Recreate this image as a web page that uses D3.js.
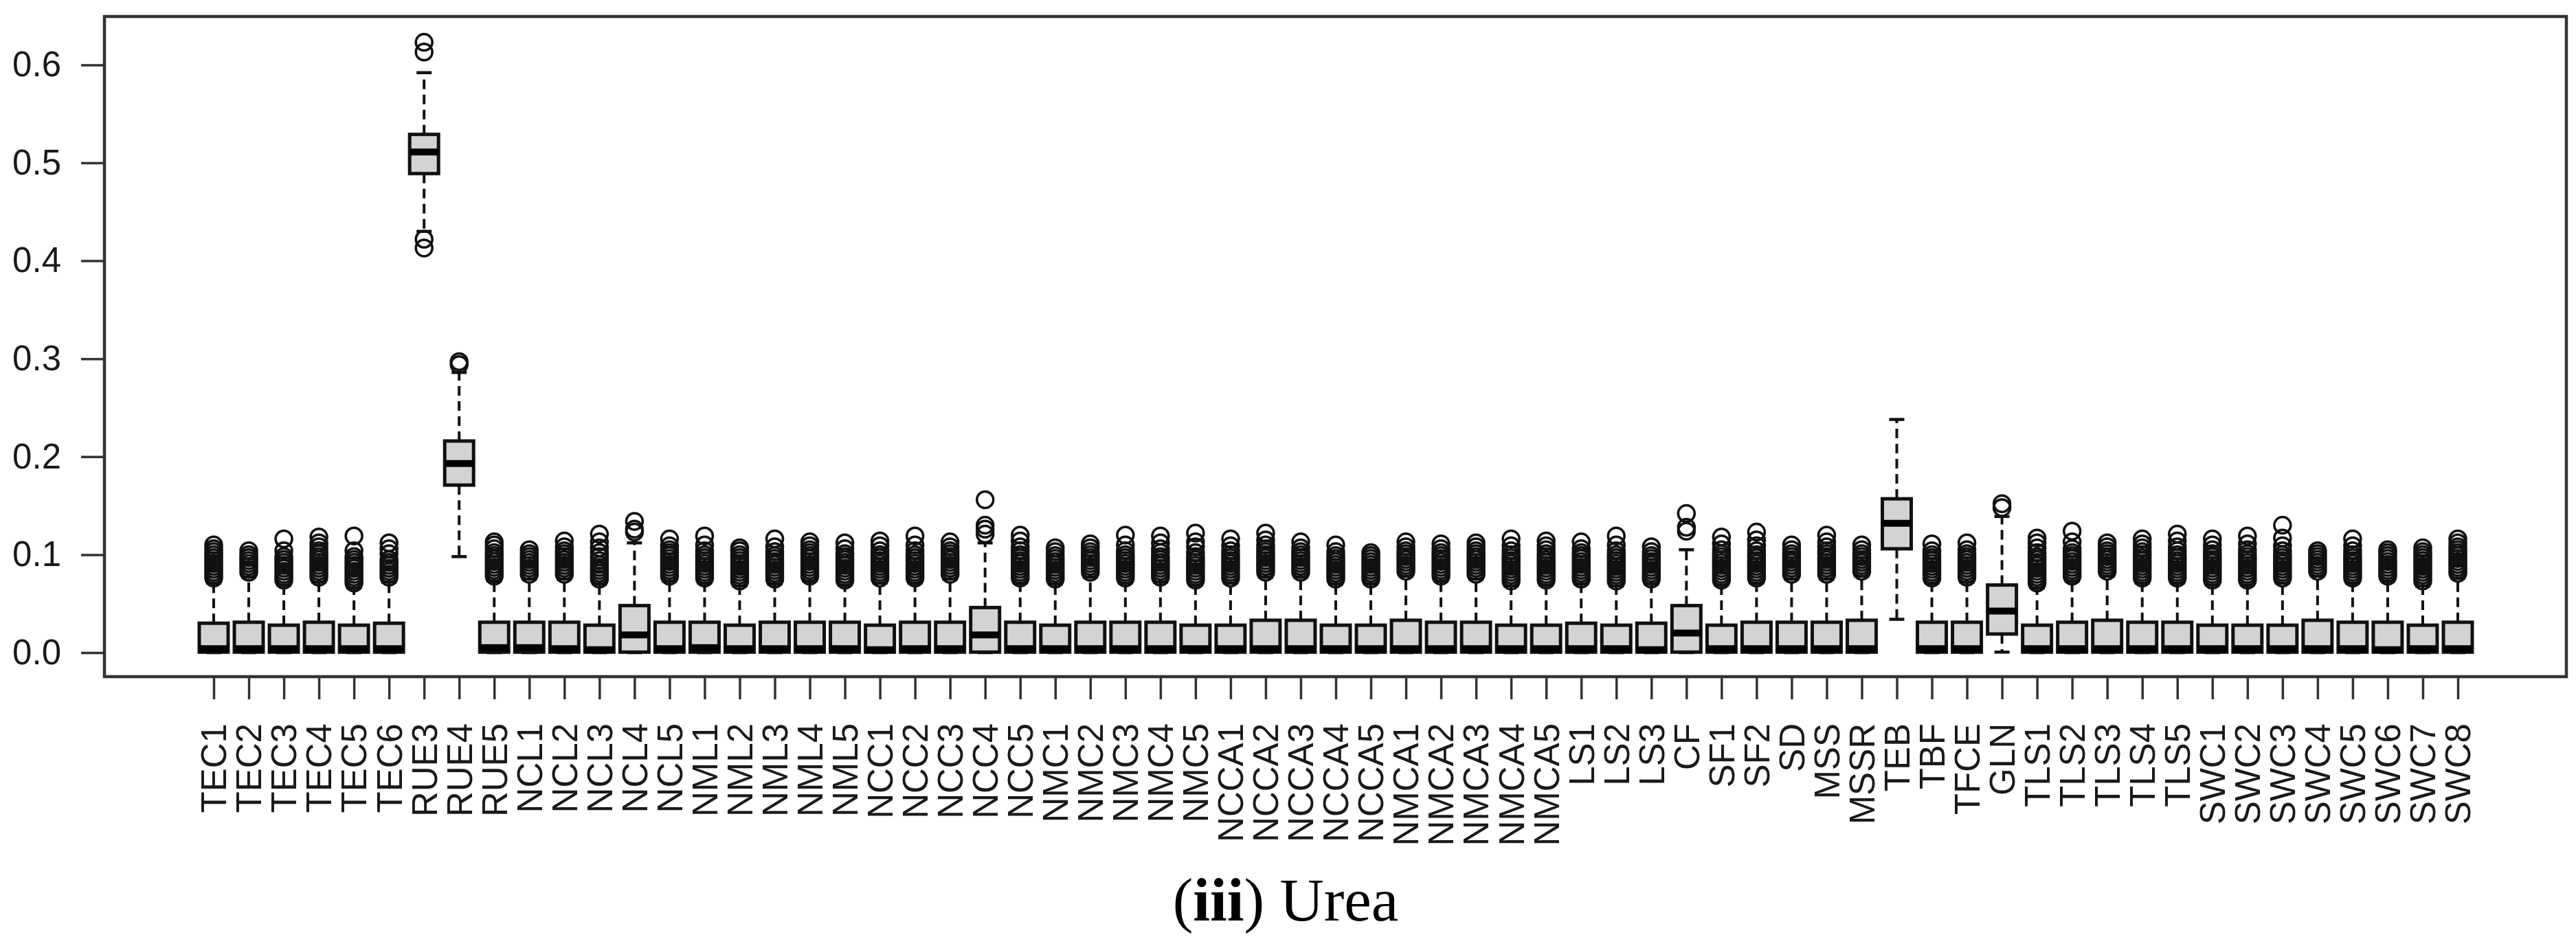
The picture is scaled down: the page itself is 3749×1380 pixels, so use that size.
<!DOCTYPE html>
<html>
<head>
<meta charset="utf-8">
<script src="https://cdn.jsdelivr.net/npm/d3@7"></script>
<style>
  html, body { margin: 0; padding: 0; background: #fff; }
  svg { display: block; }
</style>
</head>
<body>
<svg id="chart" width="3749" height="1380"></svg>
<script>
// ---------------- data ----------------
const categories = ["TEC1","TEC2","TEC3","TEC4","TEC5","TEC6","RUE3","RUE4","RUE5",
  "NCL1","NCL2","NCL3","NCL4","NCL5","NML1","NML2","NML3","NML4","NML5",
  "NCC1","NCC2","NCC3","NCC4","NCC5","NMC1","NMC2","NMC3","NMC4","NMC5",
  "NCCA1","NCCA2","NCCA3","NCCA4","NCCA5","NMCA1","NMCA2","NMCA3","NMCA4","NMCA5",
  "LS1","LS2","LS3","CF","SF1","SF2","SD","MSS","MSSR","TEB","TBF","TFCE","GLN",
  "TLS1","TLS2","TLS3","TLS4","TLS5","SWC1","SWC2","SWC3","SWC4","SWC5","SWC6","SWC7","SWC8"];

const whiskerLow = [0,0,0,0,0,0,0.430,0.098,0,
  0,0,0,0,0,0,0,0,0,0,
  0,0,0,0,0,0,0,0,0,0,
  0,0,0,0,0,0,0,0,0,0,
  0,0,0,0,0,0,0,0,0,0.034,0,0,0.0005,
  0,0,0,0,0,0,0,0,0,0,0,0,0];

const q1 = [0.0005,0.0005,0.0005,0.0005,0.0005,0.0005,0.489,0.171,0.0005,
  0.0005,0.0005,0.0005,0.0005,0.0005,0.0005,0.0005,0.0005,0.0005,0.0005,
  0.0005,0.0005,0.0005,0.0005,0.0005,0.0005,0.0005,0.0005,0.0005,0.0005,
  0.0005,0.0005,0.0005,0.0005,0.0005,0.0005,0.0005,0.0005,0.0005,0.0005,
  0.0005,0.0005,0.0005,0.0005,0.0005,0.0005,0.0005,0.0005,0.0005,0.106,0.0005,0.0005,0.019,
  0.0005,0.0005,0.0005,0.0005,0.0005,0.0005,0.0005,0.0005,0.0005,0.0005,0.0005,0.0005,0.0005];

const median = [0.004,0.004,0.004,0.004,0.004,0.004,0.511,0.193,0.005,
  0.005,0.004,0.003,0.018,0.004,0.005,0.004,0.004,0.004,0.004,
  0.003,0.004,0.004,0.018,0.004,0.004,0.004,0.004,0.004,0.004,
  0.004,0.004,0.004,0.004,0.004,0.004,0.004,0.004,0.004,0.004,
  0.004,0.004,0.003,0.020,0.004,0.004,0.004,0.004,0.004,0.132,0.004,0.004,0.0425,
  0.004,0.004,0.004,0.004,0.004,0.004,0.004,0.004,0.004,0.004,0.003,0.004,0.004];

const q3 = [0.030,0.031,0.028,0.031,0.028,0.030,0.529,0.216,0.031,
  0.031,0.031,0.028,0.048,0.031,0.031,0.028,0.031,0.031,0.031,
  0.028,0.031,0.031,0.046,0.031,0.028,0.031,0.031,0.031,0.028,
  0.028,0.033,0.033,0.028,0.028,0.033,0.031,0.031,0.028,0.028,
  0.030,0.028,0.030,0.048,0.028,0.031,0.031,0.031,0.033,0.157,0.031,0.031,0.069,
  0.028,0.031,0.033,0.031,0.031,0.028,0.028,0.028,0.033,0.031,0.031,0.028,0.031];

const whiskerHigh = [0.071,0.077,0.069,0.072,0.066,0.072,0.592,0.286,0.073,
  0.075,0.075,0.070,0.112,0.073,0.071,0.068,0.070,0.073,0.069,
  0.071,0.071,0.075,0.112,0.071,0.070,0.077,0.071,0.072,0.069,
  0.071,0.077,0.077,0.070,0.070,0.078,0.073,0.075,0.068,0.069,
  0.070,0.068,0.070,0.105,0.069,0.071,0.075,0.075,0.078,0.238,0.071,0.072,0.139,
  0.066,0.073,0.078,0.071,0.071,0.069,0.069,0.071,0.078,0.071,0.073,0.068,0.076];

const outliers = [
  [0.076,0.079,0.082,0.085,0.088,0.091,0.094,0.097,0.100,0.103,0.106,0.110],
  [0.082,0.085,0.088,0.091,0.094,0.097,0.100,0.104],
  [0.074,0.077,0.080,0.083,0.086,0.089,0.092,0.095,0.098,0.104,0.116],
  [0.077,0.080,0.083,0.086,0.089,0.092,0.095,0.098,0.101,0.104,0.108,0.112,0.118],
  [0.071,0.074,0.077,0.080,0.083,0.086,0.089,0.092,0.095,0.098,0.104,0.119],
  [0.077,0.080,0.083,0.086,0.089,0.092,0.095,0.101,0.106,0.112],
  [0.413,0.422,0.613,0.623],
  [0.294,0.297],
  [0.078,0.081,0.084,0.087,0.090,0.093,0.096,0.099,0.102,0.106,0.110,0.113],
  [0.080,0.083,0.086,0.089,0.092,0.095,0.098,0.101,0.105],
  [0.080,0.083,0.086,0.089,0.092,0.095,0.098,0.101,0.104,0.108,0.114],
  [0.075,0.078,0.081,0.084,0.087,0.090,0.094,0.098,0.102,0.107,0.113,0.121],
  [0.123,0.126,0.134],
  [0.078,0.081,0.084,0.087,0.090,0.093,0.096,0.099,0.102,0.105,0.109,0.116],
  [0.076,0.079,0.082,0.085,0.088,0.091,0.094,0.097,0.100,0.104,0.110,0.119],
  [0.073,0.076,0.079,0.082,0.085,0.088,0.091,0.094,0.097,0.100,0.104,0.107],
  [0.075,0.078,0.081,0.084,0.087,0.090,0.093,0.096,0.099,0.103,0.108,0.116],
  [0.078,0.081,0.084,0.087,0.090,0.093,0.096,0.099,0.102,0.105,0.109,0.113],
  [0.074,0.077,0.080,0.083,0.086,0.089,0.092,0.095,0.098,0.101,0.106,0.112],
  [0.076,0.079,0.082,0.085,0.088,0.091,0.094,0.097,0.100,0.104,0.109,0.114],
  [0.076,0.079,0.082,0.085,0.088,0.091,0.094,0.097,0.100,0.104,0.110,0.119],
  [0.080,0.083,0.086,0.089,0.092,0.095,0.098,0.101,0.104,0.108,0.113],
  [0.121,0.126,0.130,0.156],
  [0.076,0.079,0.082,0.085,0.088,0.091,0.094,0.097,0.100,0.104,0.108,0.114,0.120],
  [0.075,0.078,0.081,0.084,0.087,0.090,0.093,0.096,0.099,0.103,0.107],
  [0.082,0.085,0.088,0.091,0.094,0.097,0.100,0.103,0.107,0.111],
  [0.076,0.079,0.082,0.085,0.088,0.091,0.094,0.097,0.100,0.104,0.110,0.120],
  [0.077,0.080,0.083,0.086,0.089,0.092,0.095,0.098,0.102,0.106,0.112,0.119],
  [0.074,0.077,0.080,0.083,0.086,0.089,0.092,0.095,0.098,0.102,0.108,0.113,0.122],
  [0.076,0.079,0.082,0.085,0.088,0.091,0.094,0.097,0.100,0.104,0.109,0.116],
  [0.082,0.085,0.088,0.091,0.094,0.097,0.100,0.103,0.106,0.110,0.115,0.122],
  [0.082,0.085,0.088,0.091,0.094,0.097,0.100,0.103,0.107,0.113],
  [0.075,0.078,0.081,0.084,0.087,0.090,0.093,0.096,0.099,0.103,0.110],
  [0.075,0.078,0.081,0.084,0.087,0.090,0.093,0.096,0.099,0.102],
  [0.083,0.086,0.089,0.092,0.095,0.098,0.101,0.104,0.108,0.113],
  [0.078,0.081,0.084,0.087,0.090,0.093,0.096,0.099,0.102,0.106,0.111],
  [0.080,0.083,0.086,0.089,0.092,0.095,0.098,0.101,0.104,0.108,0.112],
  [0.073,0.076,0.079,0.082,0.085,0.088,0.091,0.094,0.097,0.100,0.104,0.109,0.116],
  [0.074,0.077,0.080,0.083,0.086,0.089,0.092,0.095,0.098,0.101,0.105,0.109,0.114],
  [0.075,0.078,0.081,0.084,0.087,0.090,0.093,0.096,0.099,0.102,0.106,0.113],
  [0.073,0.076,0.079,0.082,0.085,0.088,0.091,0.094,0.097,0.100,0.104,0.110,0.119],
  [0.075,0.078,0.081,0.084,0.087,0.090,0.093,0.096,0.099,0.103,0.108],
  [0.124,0.128,0.142],
  [0.074,0.077,0.080,0.083,0.086,0.089,0.092,0.095,0.098,0.101,0.105,0.111,0.118],
  [0.076,0.079,0.082,0.085,0.088,0.091,0.094,0.097,0.100,0.104,0.109,0.115,0.123],
  [0.080,0.083,0.086,0.089,0.092,0.095,0.098,0.101,0.105,0.110],
  [0.080,0.083,0.086,0.089,0.092,0.095,0.098,0.101,0.104,0.108,0.113,0.120],
  [0.083,0.086,0.089,0.092,0.095,0.098,0.101,0.105,0.110],
  [],
  [0.076,0.079,0.082,0.085,0.088,0.091,0.094,0.097,0.100,0.104,0.111],
  [0.077,0.080,0.083,0.086,0.089,0.092,0.095,0.098,0.101,0.105,0.112],
  [0.148,0.152],
  [0.071,0.074,0.077,0.080,0.083,0.086,0.089,0.092,0.095,0.098,0.102,0.107,0.112,0.117],
  [0.078,0.081,0.084,0.087,0.090,0.093,0.096,0.099,0.102,0.106,0.113,0.124],
  [0.083,0.086,0.089,0.092,0.095,0.098,0.101,0.104,0.108,0.112],
  [0.076,0.079,0.082,0.085,0.088,0.091,0.094,0.097,0.100,0.103,0.107,0.111,0.116],
  [0.076,0.079,0.082,0.085,0.088,0.091,0.094,0.097,0.100,0.104,0.108,0.114,0.121],
  [0.074,0.077,0.080,0.083,0.086,0.089,0.092,0.095,0.098,0.101,0.105,0.110,0.116],
  [0.074,0.077,0.080,0.083,0.086,0.089,0.092,0.095,0.098,0.101,0.105,0.111,0.119],
  [0.076,0.079,0.082,0.085,0.088,0.091,0.094,0.097,0.100,0.104,0.109,0.117,0.130],
  [0.083,0.086,0.089,0.092,0.095,0.098,0.101,0.104],
  [0.076,0.079,0.082,0.085,0.088,0.091,0.094,0.097,0.100,0.104,0.109,0.116],
  [0.078,0.081,0.084,0.087,0.090,0.093,0.096,0.099,0.102,0.105],
  [0.073,0.076,0.079,0.082,0.085,0.088,0.091,0.094,0.097,0.100,0.103,0.107],
  [0.081,0.084,0.087,0.090,0.093,0.096,0.099,0.102,0.105,0.108,0.112,0.116]
];

const yTicks = [0, 0.1, 0.2, 0.3, 0.4, 0.5, 0.6];
const titlePrefix = "(";
const titleBold = "iii";
const titleSuffix = ") Urea";

// ---------------- layout ----------------
const frame = { left: 152, top: 24, right: 3735, bottom: 985 };
const boxW = 42, capW = 22;

const svg = d3.select("#chart");
svg.append("rect").attr("width", 3749).attr("height", 1380).attr("fill", "#fff");

const x = d3.scalePoint().domain(categories).range([311, 3577]);
const y = d3.scaleLinear().domain([0, 0.6]).range([950, 94.4]);

const data = categories.map((c, i) => ({
  cat: c, wl: whiskerLow[i], q1: q1[i], med: median[i], q3: q3[i], wh: whiskerHigh[i], out: outliers[i]
}));

const g = svg.append("g");

const ink = "#111";
// whiskers (dashed)
g.selectAll("line.wu").data(data).join("line")
  .attr("x1", d => x(d.cat)).attr("x2", d => x(d.cat))
  .attr("y1", d => y(d.q3)).attr("y2", d => y(d.wh))
  .attr("stroke", ink).attr("stroke-width", 4).attr("stroke-dasharray", "14,8");
g.selectAll("line.wl").data(data).join("line")
  .attr("x1", d => x(d.cat)).attr("x2", d => x(d.cat))
  .attr("y1", d => y(d.q1)).attr("y2", d => y(d.wl))
  .attr("stroke", ink).attr("stroke-width", 4).attr("stroke-dasharray", "14,8");
// caps
g.selectAll("line.cu").data(data).join("line")
  .attr("x1", d => x(d.cat) - capW/2).attr("x2", d => x(d.cat) + capW/2)
  .attr("y1", d => y(d.wh)).attr("y2", d => y(d.wh))
  .attr("stroke", ink).attr("stroke-width", 4.5);
g.selectAll("line.cl").data(data).join("line")
  .attr("x1", d => x(d.cat) - capW/2).attr("x2", d => x(d.cat) + capW/2)
  .attr("y1", d => y(d.wl)).attr("y2", d => y(d.wl))
  .attr("stroke", ink).attr("stroke-width", 4.5);

// boxes
g.selectAll("rect.box").data(data).join("rect")
  .attr("x", d => x(d.cat) - boxW/2).attr("width", boxW)
  .attr("y", d => y(d.q3)).attr("height", d => y(d.q1) - y(d.q3))
  .attr("fill", "#d3d3d3").attr("stroke", ink).attr("stroke-width", 5);

// medians
g.selectAll("line.med").data(data).join("line")
  .attr("x1", d => x(d.cat) - boxW/2).attr("x2", d => x(d.cat) + boxW/2)
  .attr("y1", d => y(d.med)).attr("y2", d => y(d.med))
  .attr("stroke", "#000").attr("stroke-width", 10);

// outliers
const pts = data.flatMap(d => d.out.map(v => ({ cat: d.cat, v })));
g.selectAll("circle.out").data(pts).join("circle")
  .attr("cx", d => x(d.cat)).attr("cy", d => y(d.v)).attr("r", 12)
  .attr("fill", "none").attr("stroke", ink).attr("stroke-width", 3.5);

// frame
svg.append("rect")
  .attr("x", frame.left).attr("y", frame.top)
  .attr("width", frame.right - frame.left).attr("height", frame.bottom - frame.top)
  .attr("fill", "none").attr("stroke", "#333").attr("stroke-width", 4.5);

// y axis
const yAxis = svg.append("g").attr("transform", `translate(${frame.left},0)`)
  .call(d3.axisLeft(y).tickValues(yTicks).tickFormat(d3.format(".1f")).tickSize(34).tickPadding(29));
yAxis.select(".domain").remove();
yAxis.selectAll(".tick line").attr("stroke", "#333").attr("stroke-width", 3.5);
yAxis.selectAll(".tick text")
  .attr("font-family", "'Liberation Sans', Arial, sans-serif").attr("font-size", 51).attr("fill", "#1a1a1a");

// x axis
const xAxis = svg.append("g").attr("transform", `translate(0,${frame.bottom})`)
  .call(d3.axisBottom(x).tickSize(33));
xAxis.select(".domain").remove();
xAxis.selectAll(".tick line").attr("stroke", "#333").attr("stroke-width", 3.5);
xAxis.selectAll(".tick text")
  .attr("transform", "rotate(-90)")
  .attr("text-anchor", "end")
  .attr("x", -68).attr("y", 0).attr("dy", "0.35em")
  .attr("font-family", "'Liberation Sans', Arial, sans-serif").attr("font-size", 51).attr("fill", "#1a1a1a");

// title
const t = svg.append("text")
  .attr("x", 1871).attr("y", 1340).attr("text-anchor", "middle")
  .attr("font-family", "'Liberation Serif', 'Times New Roman', serif").attr("font-size", 89).attr("fill", "#000");
t.append("tspan").text(titlePrefix);
t.append("tspan").attr("font-weight", "bold").text(titleBold);
t.append("tspan").text(titleSuffix);
</script>
</body>
</html>
